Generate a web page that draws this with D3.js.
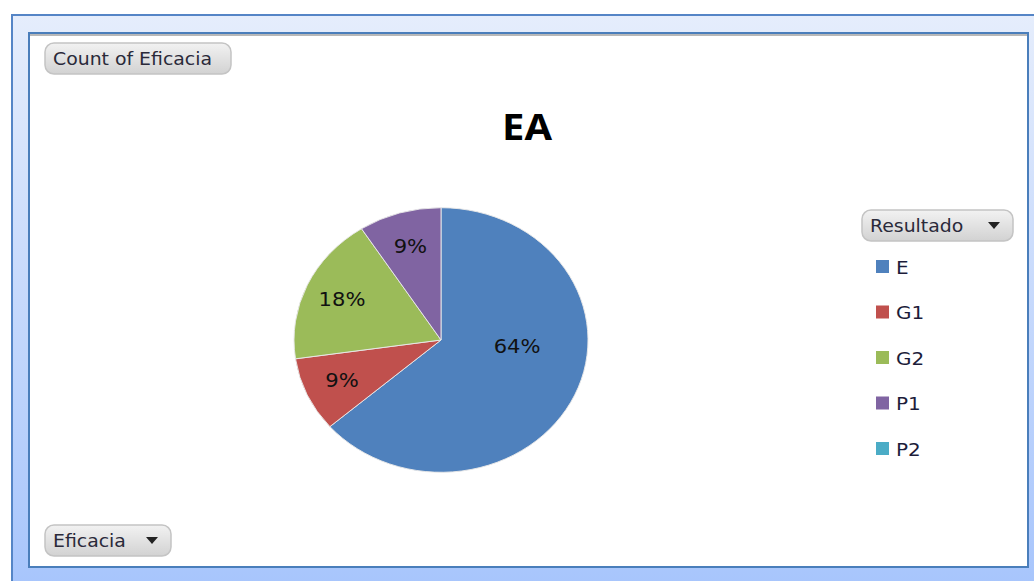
<!DOCTYPE html>
<meta charset="utf-8" />
<script src="https://d3js.org/d3.v7.min.js"></script>
<style>
  body { margin: 0; background: #fff; }
</style>
<div id="chart"></div>
<script>
  // Data (counts, 11 items in total)
  const categories = ["E", "G1", "G2", "P1", "P2"];
  const counts = [7, 1, 2, 1, 0];
  const colors = ["#4f81bd", "#c0504d", "#9bbb59", "#8064a2", "#4bacc6"];
  const title = "EA";
  const valueField = "Count of Eficacia";
  const rowField = "Eficacia";
  const legendField = "Resultado";

  const W = 1034, H = 581;
  const stretch = 1.11; // the picture is a bit wider than tall

  const svg = d3.select("#chart").append("svg")
    .attr("width", W).attr("height", H);

  const defs = svg.append("defs");
  const bg = defs.append("linearGradient").attr("id", "bg")
    .attr("x1", 0).attr("y1", 0).attr("x2", 0).attr("y2", 1);
  bg.append("stop").attr("offset", "0%").attr("stop-color", "#e5edfc");
  bg.append("stop").attr("offset", "100%").attr("stop-color", "#a4c3fc");

  const btn = defs.append("linearGradient").attr("id", "btn")
    .attr("x1", 0).attr("y1", 0).attr("x2", 0).attr("y2", 1);
  btn.append("stop").attr("offset", "0%").attr("stop-color", "#f2f2f2");
  btn.append("stop").attr("offset", "100%").attr("stop-color", "#d2d2d2");

  // outer frame
  svg.append("rect")
    .attr("x", 12).attr("y", 15).attr("width", W + 20).attr("height", H + 20)
    .attr("fill", "url(#bg)")
    .attr("stroke", "#5585c6").attr("stroke-width", 2);

  // inner white panel
  svg.append("rect")
    .attr("x", 29).attr("y", 33).attr("width", 999).attr("height", 534)
    .attr("fill", "#fff")
    .attr("stroke", "#4a7ebb").attr("stroke-width", 2);
  svg.append("line")
    .attr("x1", 30).attr("x2", 1027).attr("y1", 35).attr("y2", 35)
    .attr("stroke", "#a0a0a0").attr("stroke-width", 1.5);

  function stretchedText(g, x, y) {
    return g.append("text")
      .attr("transform", `translate(${x},${y}) scale(${stretch},1)`);
  }

  function button(x, y, w, label, arrow) {
    const g = svg.append("g").attr("transform", `translate(${x},${y})`);
    g.append("rect")
      .attr("width", w).attr("height", 31).attr("rx", 9)
      .attr("fill", "url(#btn)")
      .attr("stroke", "#c4c4c4").attr("stroke-width", 1.5);
    stretchedText(g, 8, 16)
      .attr("dominant-baseline", "central")
      .style("font", "17px 'DejaVu Sans', sans-serif")
      .attr("fill", "#2a2a3a")
      .text(label);
    if (arrow) {
      g.append("path")
        .attr("d", `M${w - 25},${12} l12,0 l-6,7 z`)
        .attr("fill", "#222");
    }
  }

  button(45, 43, 186, valueField, false);
  button(45, 525, 126, rowField, true);
  button(862, 210, 151, legendField, true);

  // title
  stretchedText(svg, 527, 126)
    .attr("text-anchor", "middle")
    .attr("dominant-baseline", "central")
    .style("font", "bold 36px 'Open Sans', sans-serif")
    .attr("fill", "#000")
    .text(title);

  // pie
  const cx = 441, cy = 340, r = 147, yScale = 0.9;
  const total = d3.sum(counts);
  const pie = d3.pie().sort(null).value((d) => d.v);
  const arcs = pie(categories.map((c, i) => ({ c, v: counts[i], color: colors[i] })));
  const arc = d3.arc().innerRadius(0).outerRadius(r);
  const labelArc = d3.arc().innerRadius(r * 0.74).outerRadius(r * 0.74);

  svg.append("g")
    .attr("transform", `translate(${cx},${cy}) scale(1,${yScale})`)
    .selectAll("path")
    .data(arcs.filter((d) => d.data.v > 0))
    .join("path")
    .attr("d", arc)
    .attr("fill", (d) => d.data.color)
    .attr("stroke", "#e8e8e8")
    .attr("stroke-width", 1);

  // labels
  const fmt = d3.format(".0%");
  const labels = svg.append("g");
  arcs.filter((d) => d.data.v > 0).forEach((d) => {
    let p;
    if (d.data.v / total > 0.5) {
      // big slice: label pulled towards the middle right
      const a = Math.PI / 2 + 0.1;
      p = [Math.sin(a) * r * 0.52, -Math.cos(a) * r * 0.52];
    } else {
      p = labelArc.centroid(d);
    }
    stretchedText(labels, cx + p[0], cy + p[1] * yScale)
      .attr("text-anchor", "middle")
      .attr("dominant-baseline", "central")
      .style("font", "19px 'DejaVu Sans', sans-serif")
      .attr("fill", "#111")
      .text(fmt(d.data.v / total));
  });

  // legend
  const ly = d3.scalePoint().domain(categories).range([267, 449]);
  const legend = svg.append("g").selectAll("g")
    .data(categories)
    .join("g")
    .attr("transform", (d) => `translate(876,${ly(d)})`);
  legend.append("rect")
    .attr("x", 0).attr("y", -7).attr("width", 13).attr("height", 13)
    .attr("fill", (d, i) => colors[i]);
  legend.each(function (d) {
    stretchedText(d3.select(this), 20, 0)
      .attr("dominant-baseline", "central")
      .style("font", "18px 'DejaVu Sans', sans-serif")
      .attr("fill", "#1c1c3a")
      .text(d);
  });
</script>
